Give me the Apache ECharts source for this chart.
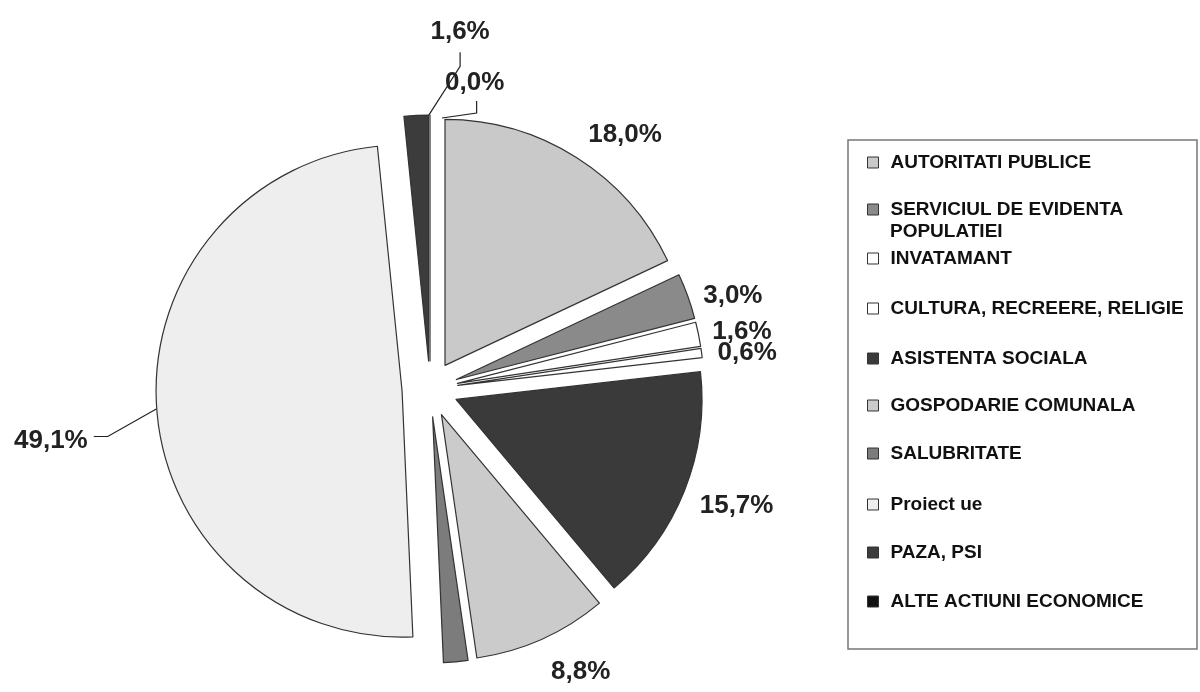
<!DOCTYPE html>
<html>
<head>
<meta charset="utf-8">
<script src="https://cdn.jsdelivr.net/npm/echarts@6/dist/echarts.min.js"></script>
<style>html,body{margin:0;padding:0;background:#fff}#c{width:1200px;height:692px}</style>
</head>
<body>
<div id="c"></div>
<script>
const categories = ['AUTORITATI PUBLICE','SERVICIUL DE EVIDENTA POPULATIEI','INVATAMANT','CULTURA, RECREERE, RELIGIE','ASISTENTA SOCIALA','GOSPODARIE COMUNALA','SALUBRITATE','Proiect ue','PAZA, PSI','ALTE ACTIUNI ECONOMICE'];
const values = [18.0, 3.0, 1.6, 0.6, 15.7, 8.8, 1.6, 49.1, 1.6, 0.0];
const colors = ['#c9c9c9','#8a8a8a','#ffffff','#ffffff','#3a3a3a','#cbcbcb','#7c7c7c','#eeeeee','#3c3c3c','#111111'];

// label nudges (layout only)
const labelShift = [[-49,-14],[-49,3],[-51,0],[-49,1],[-49,11],[-50,24],[0,0],[-4,31],[129,-74],[-40,-22]];
const legendText = {'SERVICIUL DE EVIDENTA POPULATIEI':'SERVICIUL DE EVIDENTA'};
const legendTops = [148, 195, 244, 294, 344, 391, 439, 490, 538, 587];
const FONT = '"Liberation Sans", Arial, sans-serif';

function leader(p) {
  const i = p.dataIndex, s = labelShift[i], r = p.labelRect;
  const x0 = r.x + s[0], y0 = r.y + s[1], cx = x0 + r.width / 2, cy = y0 + r.height / 2;
  const a = p.labelLinePoints ? p.labelLinePoints[0] : null;
  const out = {dx: s[0], dy: s[1]};
  if (!a) return out;
  if (i === 7) out.labelLinePoints = [a, [x0 + r.width + 20, cy - 4], [x0 + r.width + 6, cy - 4]];
  if (i === 8) out.labelLinePoints = [[a[0] + 6, a[1] + 10], [cx, y0 + r.height + 22], [cx, y0 + r.height + 8]];
  if (i === 9) out.labelLinePoints = [[a[0] + 12, a[1] + 3], [cx + 2, a[1] - 2], [cx + 2, y0 + r.height + 5]];
  return out;
}

const chart = echarts.init(document.getElementById('c'));
const data = categories.map((n, i) => {
  const d = {name: n, value: values[i], selected: true, itemStyle: {color: colors[i]}};
  if (i === 6) d.label = {show: false};
  if (i !== 7 && i !== 8 && i !== 9) d.labelLine = {show: false};
  return d;
});
chart.setOption({
  animation: false,
  graphic: [
    {type: 'rect', shape: {x: 848, y: 140, width: 349, height: 509}, style: {fill: '#fff', stroke: '#777', lineWidth: 1.5}, z: 0},
    {type: 'text', left: 890, top: 222, style: {text: 'POPULATIEI', font: 'bold 19px ' + FONT, fill: '#111'}, z: 10}
  ],
  legend: legendTops.map((t, i) => ({
    data: [categories[i]], top: t, left: 862, orient: 'vertical',
    itemWidth: 11, itemHeight: 11, itemGap: 12, icon: 'rect',
    formatter: n => legendText[n] || n,
    textStyle: {fontFamily: FONT, fontWeight: 'bold', fontSize: 19, color: '#111', padding: [0,0,0,7]},
    itemStyle: {borderColor: '#333', borderWidth: 1}
  })),
  series: [{
    type: 'pie',
    center: [430, 389],
    radius: 246,
    startAngle: 90,
    clockwise: true,
    selectedMode: 'multiple',
    selectedOffset: 28,
    avoidLabelOverlap: false,
    itemStyle: {borderColor: '#333', borderWidth: 1.2},
    emphasis: {disabled: true},
    label: {
      position: 'outside',
      formatter: p => p.value.toFixed(1).replace('.', ',') + '%',
      fontFamily: FONT, fontWeight: 'bold', fontSize: 26, color: '#222'
    },
    labelLine: {length: 10, length2: 50, lineStyle: {color: '#222', width: 1.2}},
    labelLayout: leader,
    data: data
  }]
});
</script>
</body>
</html>
